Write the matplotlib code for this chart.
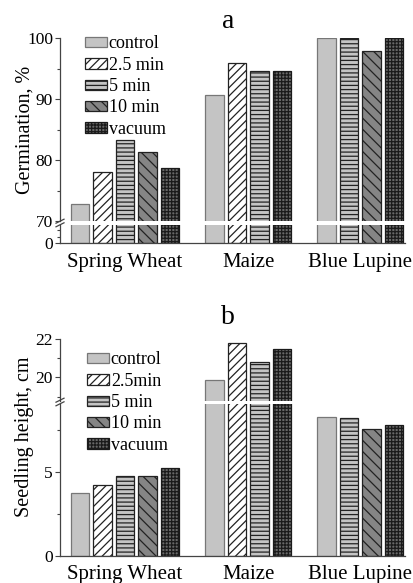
import matplotlib
matplotlib.use('Agg')
import matplotlib.pyplot as plt
from matplotlib.patches import Patch
from matplotlib.lines import Line2D

# ---------------- data ----------------
categories = ['Spring Wheat', 'Maize', 'Blue Lupine']
legend_a = ['control', '2.5 min', '5 min', '10 min', 'vacuum']
legend_b = ['control', '2.5min', '5 min', '10 min', 'vacuum']

germ_control = [72.8, 90.7, 100.0]
germ_2_5min = [78.1, 96.0, None]
germ_5min = [83.3, 94.7, 100.0]
germ_10min = [81.4, None, 98.0]
germ_vacuum = [78.7, 94.7, 100.0]

height_control = [3.71, 19.86, 8.26]
height_2_5min = [4.21, 21.8, None]
height_5min = [4.72, 20.8, 8.2]
height_10min = [4.72, None, 7.56]
height_vacuum = [5.22, 21.5, 7.8]

germ_series = [germ_control, germ_2_5min, germ_5min, germ_10min, germ_vacuum]
height_series = [height_control, height_2_5min, height_5min, height_10min, height_vacuum]

# ---------------- style ----------------
plt.rcParams['font.family'] = ['Liberation Serif', 'DejaVu Serif']
plt.rcParams['hatch.linewidth'] = 0.9
styles = [
    dict(facecolor='#c4c4c4', edgecolor='#777777', hatch=None),
    dict(facecolor='white', edgecolor='#222222', hatch='////'),
    dict(facecolor='#c4c4c4', edgecolor='#222222', hatch='----'),
    dict(facecolor='#858585', edgecolor='#222222', hatch='\\\\\\'),
    dict(facecolor='#686868', edgecolor='#1a1a1a', hatch='+++++'),
]
W, H = 414, 583
fig = plt.figure(figsize=(W / 100, H / 100), dpi=100)


def ax_px(left, top, right, bottom):
    return fig.add_axes([left / W, 1 - bottom / H, (right - left) / W, (bottom - top) / H])


def slots(series):
    """sequential slot positions; missing bars are skipped, one empty slot between groups"""
    pos = [[None] * len(categories) for _ in series]
    centers = []
    s = 0
    for i in range(len(categories)):
        first = s
        for j, ser in enumerate(series):
            if ser[i] is not None:
                pos[j][i] = s
                s += 1
        centers.append((first + s - 1) / 2)
        s += 1
    return pos, centers


def style_axis(ax, lower):
    for sp in ['top', 'right']:
        ax.spines[sp].set_visible(False)
    ax.spines['left'].set_color('#444444')
    ax.spines['left'].set_linewidth(0.9)
    ax.spines['bottom'].set_color('#444444')
    ax.spines['bottom'].set_linewidth(0.9)
    if not lower:
        ax.spines['bottom'].set_visible(False)
    ax.tick_params(axis='y', which='major', direction='out', length=3.5, width=0.8,
                   color='#444444', labelsize=12.5, pad=1.5)
    ax.tick_params(axis='y', which='minor', direction='out', length=2.5, width=0.8,
                   color='#444444')
    ax.tick_params(axis='x', length=0, labelsize=15, pad=7)
    ax.set_xlim(-0.9, 14.5)
    ax.patch.set_alpha(0)


def draw_panel(axes, series):
    pos, centers = slots(series)
    for ax in axes:
        for j, ser in enumerate(series):
            xs = [pos[j][i] for i in range(len(categories)) if ser[i] is not None]
            ys = [ser[i] for i in range(len(categories)) if ser[i] is not None]
            ax.bar(xs, ys, width=0.82, linewidth=0.9, **styles[j])
    return centers


def break_marks(x, y):
    for dy in (-1.8, 1.8):
        fig.add_artist(Line2D([(x - 4) / W, (x + 4) / W],
                              [1 - (y + dy + 2) / H, 1 - (y + dy - 2) / H],
                              color='#444444', lw=0.9))


def add_legend(labels, x, top):
    handles = [Patch(linewidth=0.9, **st) for st in styles]
    fig.legend(handles, labels, loc='upper left', bbox_to_anchor=(x / W, 1 - top / H),
               frameon=False, fontsize=13, borderpad=0, borderaxespad=0,
               handlelength=1.22, handleheight=0.5, handletextpad=0.1, labelspacing=0.24)


# ---------------- panel a ----------------
a_up = ax_px(60, 38.3, 405, 221.3)
a_lo = ax_px(60, 224.8, 405, 243)
centers = draw_panel([a_up, a_lo], germ_series)
for ax, lower in ((a_up, False), (a_lo, True)):
    style_axis(ax, lower)
a_up.set_ylim(70, 100)
a_up.set_yticks([70, 80, 90, 100])
a_up.set_yticks([75, 85, 95], minor=True)
a_up.set_xticks([])
a_lo.set_ylim(0, 2.8)
a_lo.set_yticks([0])
a_lo.set_yticks([1, 2], minor=True)
a_lo.set_xticks(centers)
a_lo.set_xticklabels(categories)
break_marks(60, 223)

fig.text(228 / W, 1 - 28.3 / H, 'a', ha='center', va='baseline', fontsize=20)
fig.text(25 / W, 1 - 130 / H, 'Germination, %', rotation=90, ha='center', va='center',
         fontsize=14.5)
add_legend(legend_a, 85, 35.5)

# ---------------- panel b ----------------
b_up = ax_px(60, 339, 405, 400.5)
b_lo = ax_px(60, 403.5, 405, 555.7)
centers = draw_panel([b_up, b_lo], height_series)
for ax, lower in ((b_up, False), (b_lo, True)):
    style_axis(ax, lower)
b_up.set_ylim(18.8, 22)
b_up.set_yticks([20, 22])
b_up.set_yticks([19, 21], minor=True)
b_up.set_xticks([])
b_lo.set_ylim(0, 9.06)
b_lo.set_yticks([0, 5])
b_lo.set_yticks([2.5, 7.5], minor=True)
b_lo.set_xticks(centers)
b_lo.set_xticklabels(categories)
break_marks(60, 402)

fig.text(228 / W, 1 - 324.3 / H, 'b', ha='center', va='baseline', fontsize=20)
fig.text(25 / W, 1 - 437 / H, 'Seedling height, cm', rotation=90, ha='center', va='center',
         fontsize=14.5)
add_legend(legend_b, 87, 351.5)

fig.savefig('out.png', dpi=100)
